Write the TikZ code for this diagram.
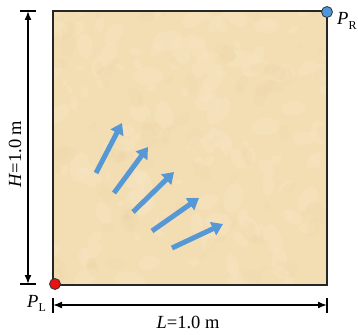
\documentclass[tikz,border=0pt]{standalone}
\usepackage{fontspec}
\setmainfont{Liberation Serif}
\usetikzlibrary{arrows.meta}
\definecolor{paper}{RGB}{243,222,180}
\definecolor{paperlight}{RGB}{250,236,208}
\definecolor{paperdark}{RGB}{232,205,155}
\definecolor{flow}{RGB}{86,152,214}
\definecolor{ptred}{RGB}{232,18,18}
\definecolor{ptblue}{RGB}{78,150,218}
\begin{document}
\begin{tikzpicture}[x=1pt,y=-1pt,
  dimline/.style={line width=1.6pt,{Latex[length=9pt,width=7pt]}-{Latex[length=9pt,width=7pt]}},
  tickline/.style={line width=1.4pt},
  flowarrow/.style={flow,line width=5pt,-{Triangle[length=11pt,width=14pt]}},
  lbl/.style={font=\fontsize{18.5}{21}\selectfont,inner sep=0pt},
  pt/.style={circle,draw=black!80,line width=0.8pt,minimum size=11pt,inner sep=0pt}]
\useasboundingbox (0,0) rectangle (358,334);
\coordinate (SW) at (53,285);
\coordinate (NE) at (327,11);
% domain
\fill[paper] (SW) rectangle (NE);
\begin{scope}
  \clip (SW) rectangle (NE);
  \pgfmathsetseed{11}
  \foreach \i in {1,...,140}{
    \pgfmathsetmacro\xx{53+274*rnd}
    \pgfmathsetmacro\yy{11+274*rnd}
    \pgfmathsetmacro\rr{4+12*rnd}
    \pgfmathsetmacro\aa{180*rnd}
    \fill[paperlight,opacity=0.18,rotate around={\aa:(\xx,\yy)}] (\xx,\yy) ellipse[x radius=\rr,y radius=0.6*\rr];
  }
  \foreach \i in {1,...,90}{
    \pgfmathsetmacro\xx{53+274*rnd}
    \pgfmathsetmacro\yy{11+274*rnd}
    \pgfmathsetmacro\rr{3+10*rnd}
    \pgfmathsetmacro\aa{180*rnd}
    \fill[paperdark,opacity=0.12,rotate around={\aa:(\xx,\yy)}] (\xx,\yy) ellipse[x radius=\rr,y radius=0.6*\rr];
  }
\end{scope}
\draw[line width=1.5pt,black!85] (SW) rectangle (NE);
% flow arrows
\coordinate (a1s) at (96,173);  \coordinate (a1e) at (122,123);
\coordinate (a2s) at (114,193); \coordinate (a2e) at (148,147);
\coordinate (a3s) at (133,212); \coordinate (a3e) at (174,172);
\coordinate (a4s) at (152,231); \coordinate (a4e) at (199,198);
\coordinate (a5s) at (172,248); \coordinate (a5e) at (223,224);
\foreach \k in {1,...,5}{\draw[flowarrow] (a\k s) -- (a\k e);}
% vertical dimension
\coordinate (vt) at (28,11); \coordinate (vb) at (28,284);
\draw[tickline] (20,11) -- (36,11);
\draw[tickline] (20,284) -- (36,284);
\draw[dimline] (vt) -- (vb);
\node[lbl,rotate=90] (hlab) at (15,154) {\textit{H}=1.0 m};
% horizontal dimension
\coordinate (hl) at (53,305); \coordinate (hr) at (327,305);
\draw[tickline] (53,298) -- (53,313);
\draw[tickline] (327,298) -- (327,313);
\draw[dimline] (hl) -- (hr);
\node[lbl] (llab) at (188,322) {\textit{L}=1.0 m};
% points
\node[pt,fill=ptred] (PL) at (55,284) {};
\node[pt,fill=ptblue] (PR) at (327,12) {};
\node[lbl,anchor=base west] (plab) at (27,307) {\textit{P}\raisebox{-4.5pt}{\fontsize{12}{12}\selectfont L}};
\node[lbl,anchor=base west] (prlab) at (337,25) {\textit{P}\raisebox{-4.5pt}{\fontsize{12}{12}\selectfont R}};
\end{tikzpicture}
\end{document}
